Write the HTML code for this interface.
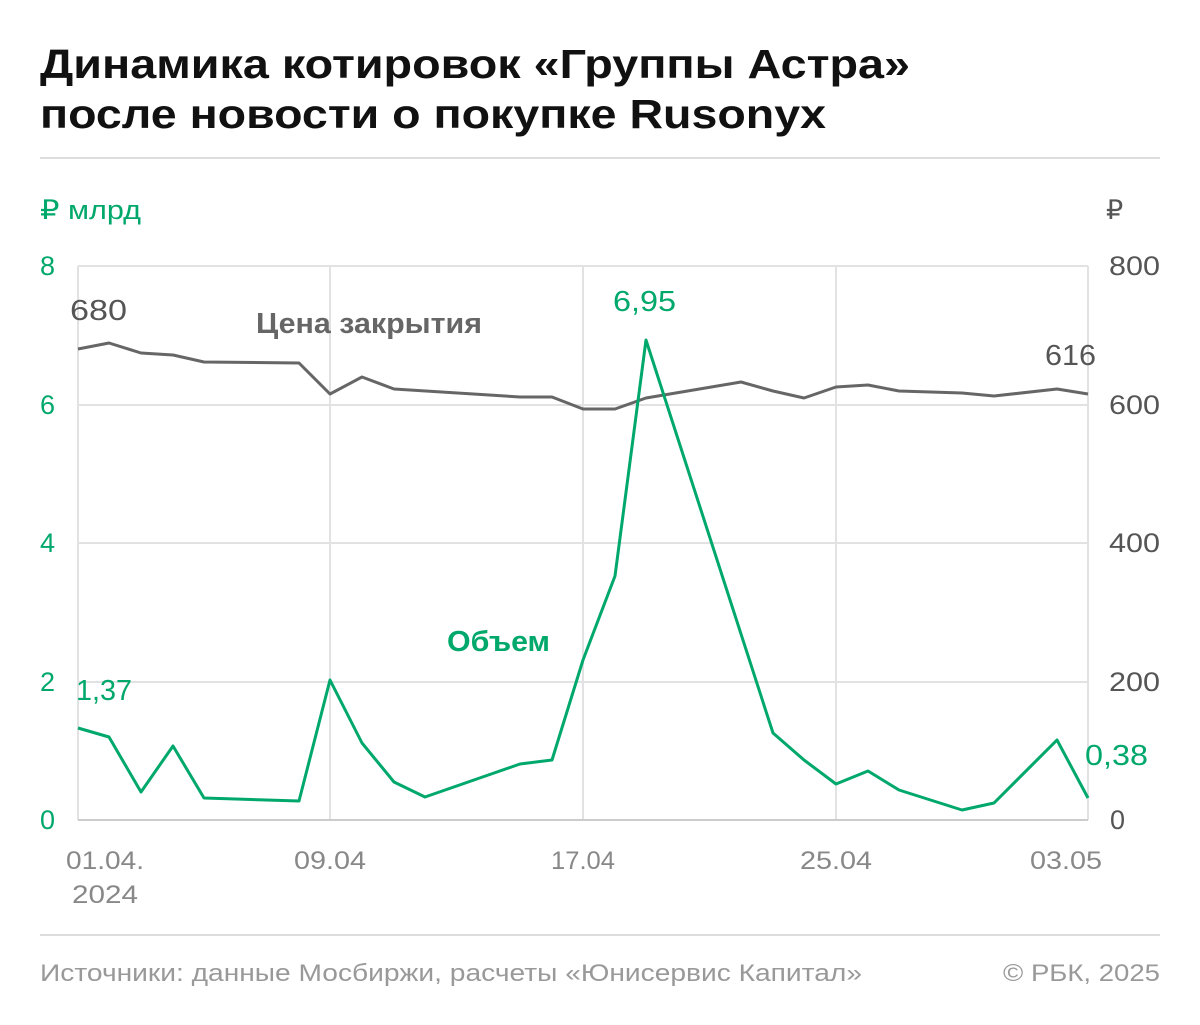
<!DOCTYPE html>
<html><head><meta charset="utf-8"><style>
body{margin:0;width:1200px;height:1020px;background:#fff;font-family:"Liberation Sans",sans-serif;overflow:hidden}
</style></head><body>
<svg width="1200" height="1020" xmlns="http://www.w3.org/2000/svg" font-family="Liberation Sans, sans-serif">
<text x="40" y="78" font-size="41" font-weight="bold" fill="#111" textLength="870" lengthAdjust="spacingAndGlyphs">Динамика котировок «Группы Астра»</text>
<text x="40" y="128" font-size="41" font-weight="bold" fill="#111" textLength="786" lengthAdjust="spacingAndGlyphs">после новости о покупке Rusonyx</text>
<line x1="40" y1="158" x2="1160" y2="158" stroke="#ddd" stroke-width="2"/>
<text x="40" y="219" font-size="27" fill="#00a86b" textLength="101" lengthAdjust="spacingAndGlyphs">₽ млрд</text>
<text x="1106" y="219" font-size="27" fill="#555">₽</text>
<g stroke="#e2e2e2" stroke-width="2">
<line x1="78" y1="266" x2="1088" y2="266"/><line x1="78" y1="405" x2="1088" y2="405"/>
<line x1="78" y1="543" x2="1088" y2="543"/><line x1="78" y1="682" x2="1088" y2="682"/>
<line x1="330" y1="266" x2="330" y2="820"/><line x1="583" y1="266" x2="583" y2="820"/>
<line x1="836" y1="266" x2="836" y2="820"/><line x1="1088" y1="266" x2="1088" y2="820"/>
<line x1="78" y1="266" x2="78" y2="820"/>
</g>
<line x1="78" y1="820" x2="1088" y2="820" stroke="#ccc" stroke-width="2"/>
<g font-size="27" fill="#00a86b" text-anchor="start">
<text x="40" y="275">8</text><text x="40" y="414">6</text><text x="40" y="552">4</text><text x="40" y="691">2</text><text x="40" y="829">0</text>
</g>
<g font-size="27" fill="#555" text-anchor="end">
<text x="1160" y="275" textLength="51" lengthAdjust="spacingAndGlyphs">800</text><text x="1160" y="414" textLength="51" lengthAdjust="spacingAndGlyphs">600</text><text x="1160" y="552" textLength="51" lengthAdjust="spacingAndGlyphs">400</text><text x="1160" y="691" textLength="51" lengthAdjust="spacingAndGlyphs">200</text><text x="1125" y="829">0</text>
</g>
<g font-size="25" fill="#888" text-anchor="middle">
<text x="105" y="869" textLength="78" lengthAdjust="spacingAndGlyphs">01.04.</text><text x="105" y="903" textLength="66" lengthAdjust="spacingAndGlyphs">2024</text>
<text x="330" y="869" textLength="72" lengthAdjust="spacingAndGlyphs">09.04</text><text x="583" y="869" textLength="64" lengthAdjust="spacingAndGlyphs">17.04</text><text x="836" y="869" textLength="72" lengthAdjust="spacingAndGlyphs">25.04</text><text x="1066" y="869" textLength="72" lengthAdjust="spacingAndGlyphs">03.05</text>
</g>
<polyline fill="none" stroke="#666" stroke-width="3" stroke-linejoin="round" points="78,349 109,343 141,353 173,355 204,362 299,363 330,394 362,377 394,389 520,397 552,397 583,409 615,409 646,398 741,382 773,391 804,398 836,387 868,385 899,391 962,393 994,396 1057,389 1088,394"/>
<polyline fill="none" stroke="#00a86b" stroke-width="3" stroke-linejoin="round" points="78,728 109,737 141,792 173,746 204,798 299,801 330,680 362,743 394,782 425,797 520,764 552,760 583,660 615,576 646,340 773,733 804,760 836,784 868,771 899,790 962,810 994,803 1057,740 1088,798"/>
<text x="70" y="320" font-size="29" fill="#555" textLength="57" lengthAdjust="spacingAndGlyphs">680</text>
<text x="1045" y="365" font-size="29" fill="#555" textLength="51" lengthAdjust="spacingAndGlyphs">616</text>
<text x="256" y="333" font-size="29" font-weight="bold" fill="#666" textLength="226" lengthAdjust="spacingAndGlyphs">Цена закрытия</text>
<text x="613" y="311" font-size="29" fill="#00a86b" textLength="63" lengthAdjust="spacingAndGlyphs">6,95</text>
<text x="76" y="700" font-size="29" fill="#00a86b" textLength="56" lengthAdjust="spacingAndGlyphs">1,37</text>
<text x="1085" y="765" font-size="29" fill="#00a86b" textLength="63" lengthAdjust="spacingAndGlyphs">0,38</text>
<text x="447" y="651" font-size="29" font-weight="bold" fill="#00a86b" textLength="103" lengthAdjust="spacingAndGlyphs">Объем</text>
<line x1="40" y1="935" x2="1160" y2="935" stroke="#ddd" stroke-width="2"/>
<text x="40" y="981" font-size="24" fill="#999" textLength="822" lengthAdjust="spacingAndGlyphs">Источники: данные Мосбиржи, расчеты «Юнисервис Капитал»</text>
<text x="1160" y="981" font-size="24" fill="#999" text-anchor="end" textLength="157" lengthAdjust="spacingAndGlyphs">© РБК, 2025</text>
</svg>
</body></html>
